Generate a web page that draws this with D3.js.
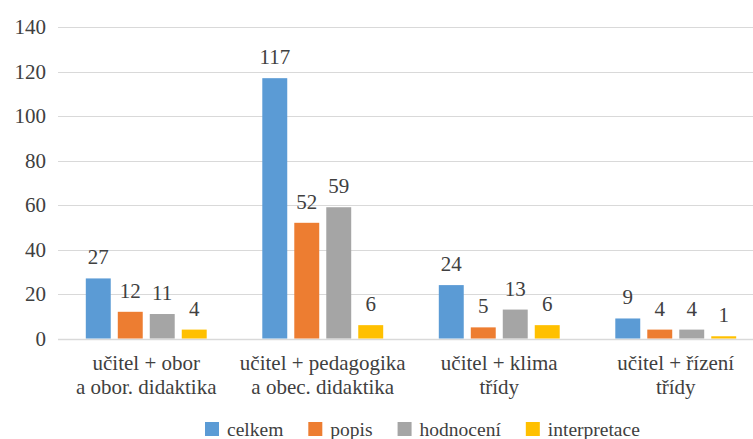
<!DOCTYPE html>
<html>
<head>
<meta charset="utf-8">
<script src="https://cdn.jsdelivr.net/npm/d3@7"></script>
<style>
  body { margin: 0; background: #fff; }
  svg { display: block; }
</style>
</head>
<body>
<script>
// data
var categories = [
  ["učitel + obor", "a obor. didaktika"],
  ["učitel + pedagogika", "a obec. didaktika"],
  ["učitel + klima", "třídy"],
  ["učitel + řízení", "třídy"]
];
var seriesNames = ["celkem", "popis", "hodnocení", "interpretace"];
var celkem = [27, 117, 24, 9];
var popis = [12, 52, 5, 4];
var hodnoceni = [11, 59, 13, 4];
var interpretace = [4, 6, 6, 1];
var yTicks = [0, 20, 40, 60, 80, 100, 120, 140];
var colors = ["#5B9BD5", "#ED7D31", "#A5A5A5", "#FFC000"];

var seriesValues = [celkem, popis, hodnoceni, interpretace];
var width = 753, height = 439;
var textColor = "#404040";

var svg = d3.select("body").append("svg")
    .attr("width", width)
    .attr("height", height)
    .attr("font-family", "Liberation Serif");

var x0 = d3.scaleBand()
    .domain(d3.range(categories.length))
    .range([58, 764])
    .paddingInner(0.315)
    .paddingOuter(0.1575);

var x1 = d3.scaleBand()
    .domain(d3.range(seriesNames.length))
    .range([0, x0.bandwidth()])
    .paddingInner(0.22);

var y = d3.scaleLinear()
    .domain([0, 140])
    .range([338.5, 27]);

// gridlines
svg.append("g").selectAll("line")
    .data(yTicks)
    .enter().append("line")
    .attr("x1", 58)
    .attr("x2", 764)
    .attr("y1", function(d) { return Math.round(y(d)) + 0.5; })
    .attr("y2", function(d) { return Math.round(y(d)) + 0.5; })
    .attr("stroke", "#d9d9d9")
    .attr("stroke-width", function(d) { return d === 0 ? 1.5 : 1.2; });

// y axis labels
svg.append("g").selectAll("text")
    .data(yTicks)
    .enter().append("text")
    .attr("x", 46)
    .attr("y", function(d) { return y(d) + 7; })
    .attr("text-anchor", "end")
    .attr("font-family", "Liberation Serif")
    .attr("font-size", "21px")
    .attr("fill", textColor)
    .text(function(d) { return d; });

// bars
var groups = svg.append("g").selectAll("g")
    .data(categories)
    .enter().append("g")
    .attr("transform", function(d, i) { return "translate(" + x0(i) + ",0)"; });

groups.each(function(c, ci) {
  var g = d3.select(this);
  var vals = seriesValues.map(function(s, si) { return { si: si, v: s[ci] }; });
  g.selectAll("rect")
    .data(vals)
    .enter().append("rect")
    .attr("x", function(d) { return x1(d.si); })
    .attr("width", x1.bandwidth())
    .attr("y", function(d) { return y(d.v); })
    .attr("height", function(d) { return y(0) - y(d.v); })
    .attr("fill", function(d) { return colors[d.si]; });
  g.selectAll("text.val")
    .data(vals)
    .enter().append("text")
    .attr("class", "val")
    .attr("x", function(d) { return x1(d.si) + x1.bandwidth() / 2; })
    .attr("y", function(d) { return y(d.v) - 14; })
    .attr("text-anchor", "middle")
    .attr("font-family", "Liberation Serif")
    .attr("font-size", "21px")
    .attr("fill", textColor)
    .text(function(d) { return d.v; });
});

// category labels
var catLabels = svg.append("g").selectAll("text")
    .data(categories)
    .enter().append("text")
    .attr("x", function(d, i) { return x0(i) + x0.bandwidth() / 2; })
    .attr("y", 370)
    .attr("text-anchor", "middle")
    .attr("font-family", "Liberation Serif")
    .attr("font-size", "21px")
    .attr("fill", textColor);

catLabels.selectAll("tspan")
    .data(function(d) { return d; })
    .enter().append("tspan")
    .attr("x", function() { return d3.select(this.parentNode).attr("x"); })
    .attr("dy", function(d, i) { return i === 0 ? 0 : 23.5; })
    .text(function(d) { return d; });

// legend
var legend = svg.append("g");
var lx = 205;
seriesNames.forEach(function(name, i) {
  legend.append("rect")
    .attr("x", lx)
    .attr("y", 422)
    .attr("width", 14)
    .attr("height", 14)
    .attr("fill", colors[i]);
  var t = legend.append("text")
    .attr("x", lx + 22)
    .attr("y", 436)
    .attr("font-family", "Liberation Serif")
    .attr("font-size", "19.5px")
    .attr("fill", textColor)
    .text(name);
  lx += 22 + t.node().getComputedTextLength() + 25;
});
</script>
</body>
</html>
